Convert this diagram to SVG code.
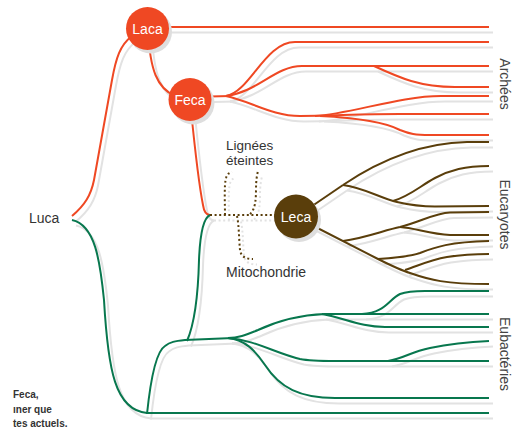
<svg xmlns="http://www.w3.org/2000/svg" xmlns:xlink="http://www.w3.org/1999/xlink" width="518" height="429" viewBox="0 0 518 429">
<style>
.ln{fill:none;stroke-width:2;stroke-linecap:butt}
.sh{stroke:#e2e2e2}
.red{stroke:#EF4823}
.grn{stroke:#08774E}
.brn{stroke:#5A3E0B}
.dot{stroke-dasharray:2 2.6}
.lbl{font-family:"Liberation Sans",Arial,sans-serif;font-size:14px;fill:#333}
.sm{font-size:13.5px}
.nl{font-family:"Liberation Sans",Arial,sans-serif;font-size:14px;fill:#fff;text-anchor:middle}
.grp{font-family:"Liberation Sans",Arial,sans-serif;font-size:14px;fill:#444;text-anchor:middle}
.note{font-family:"Liberation Sans",Arial,sans-serif;font-size:10px;font-weight:bold;fill:#333}
.nsh{fill:#dedede}
</style>
<defs>
<g id="redLines">
<path d="M72,216 C85,205 91,195 94,180 L112,80 C116,58 120,45 132,36"/>
<path d="M148,27 L489,27"/>
<path d="M148,30 C150,70 157,88 175,96"/>
<path d="M190,97 L230,96"/>
<path d="M226,96 C250,92 265,42 295,42 L489,42"/>
<path d="M226,96 C258,92 275,66 302,66 L489,66"/>
<path d="M374,66 C400,78 420,87 455,87 L489,87"/>
<path d="M226,96 C250,101 272,116 300,116 C330,116 360,114 400,114 L489,114"/>
<path d="M315,116 C350,114 400,96 441,96 L489,96"/>
<path d="M320,116 C360,118 385,122 400,130 C410,134 415,135 430,135 L489,135"/>
<path d="M191,110 C195,150 200,190 203,205 C204,212 206,215 210,215"/>
</g>
<g id="greenLines">
<path d="M72,220 C95,225 100,260 104,300 C108,370 115,410 147,413"/>
<path d="M147,413 L489,413"/>
<path d="M147,414 C150,385 155,352 165,346 C170,342 175,341 185,340 L233,338"/>
<path d="M210,215 C203,218 200,235 199,260 C198,300 194,325 187,341"/>
<path d="M228,338 C240,338 248,334 258,330 C275,322 300,315 325,314 L489,314"/>
<path d="M362,314 C385,313 388,300 400,294 C408,291 415,291 425,291 L489,291"/>
<path d="M322,314 C345,318 360,327 385,327 L489,327"/>
<path d="M228,338 C255,340 275,353 300,359 C310,361 320,361 335,361 L489,361"/>
<path d="M388,361 C405,358 410,352 430,348 C450,344 470,342 489,341"/>
<path d="M228,338 C245,340 255,350 265,365 C280,388 300,398 335,398 L489,398"/>
</g>
<g id="brownLines">
<path d="M296,217 L343,185"/>
<path d="M343,185 C380,160 420,143 467,142 L489,142"/>
<path d="M343,185 C365,188 380,198 397,202 C410,205 420,206.5 435,206.5 L489,206"/>
<path d="M393,201 C410,196 420,186 435,178 C450,170 465,166 489,166"/>
<path d="M296,217 L378,259 C390,265 400,270 410,273 C430,280 445,284 489,284"/>
<path d="M343,241 C365,238 385,230 400,227 C420,222 435,213 450,212.5 L489,212"/>
<path d="M400,227 C415,228 430,234 450,235 L489,235"/>
<path d="M378,259 C395,258 408,257 420,253 C435,247 450,242 489,241"/>
<path d="M405,270 C420,265 430,260 447,257 C460,255 470,254 489,254"/>
</g>
<g id="dotLines">
<path d="M210,215 L276,215"/>
<path d="M225,215 C225,205 224,185 226,178 C227,174 229,173 232,172"/>
<path d="M250,214 C255,210 256,200 256,190 C256,180 257,175 258,171"/>
<path d="M237,216 C239,225 239,240 240,250 C241,257 246,259 253,259"/>
</g>
</defs>
<g id="connectors">
<g transform="translate(4,5.5)">
<use xlink:href="#redLines" class="ln sh"/>
<use xlink:href="#greenLines" class="ln sh"/>
<use xlink:href="#brownLines" class="ln sh"/>
<use xlink:href="#dotLines" class="ln sh dot"/>
</g>
<use xlink:href="#redLines" class="ln red"/>
<use xlink:href="#greenLines" class="ln grn"/>
<use xlink:href="#brownLines" class="ln brn"/>
<use xlink:href="#dotLines" class="ln brn dot"/>
</g>
<g id="node-laca">
<circle class="nsh" cx="150.5" cy="32" r="21.5"/>
<circle cx="147.5" cy="28.5" r="21.5" fill="#EF4823"/>
<text class="nl" x="147.5" y="33.5">Laca</text>
</g>
<g id="node-feca">
<circle class="nsh" cx="193" cy="103" r="21.5"/>
<circle cx="190" cy="99.5" r="21.5" fill="#EF4823"/>
<text class="nl" x="190" y="104.5">Feca</text>
</g>
<g id="node-leca">
<circle class="nsh" cx="299" cy="220" r="22"/>
<circle cx="296" cy="216.5" r="22" fill="#5A3E0B"/>
<text class="nl" x="296" y="221.5">Leca</text>
</g>
<g id="node-luca">
<text class="lbl" x="29" y="223">Luca</text>
</g>
<g id="labels">
<text class="lbl sm" x="226" y="149.5">Lignées</text>
<text class="lbl sm" x="226" y="164.5">éteintes</text>
<text class="lbl" x="226" y="277">Mitochondrie</text>
<text class="grp" transform="translate(500,84) rotate(90)">Archées</text>
<text class="grp" transform="translate(500,214.5) rotate(90)">Eucaryotes</text>
<text class="grp" transform="translate(500,354) rotate(90)">Eubactéries</text>
<text class="note" x="13" y="398">Feca,</text>
<text class="note" x="13" y="413">ıner que</text>
<text class="note" x="13" y="427">tes actuels.</text>
</g>
</svg>
